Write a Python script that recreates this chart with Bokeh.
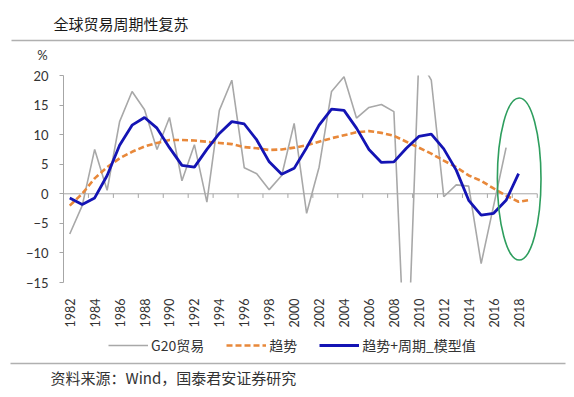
import math
from bokeh.plotting import figure
from bokeh.layouts import column
from bokeh.models import Range1d, FixedTicker, Legend, LegendItem
from bokeh.core.properties import value
from bokeh.embed import file_html
from bokeh.resources import INLINE

# ---------------- data ----------------
years = list(range(1982, 2020))
g20_years = years[:36]
g20_trade = [-6.8, -2.0, 7.5, 0.6, 12.2, 17.3, 14.2, 7.5, 12.9, 2.2,
             8.3, -1.4, 14.1, 19.2, 4.4, 3.4, 0.7, 3.1, 11.9, -3.3,
             4.5, 17.3, 19.8, 12.8, 14.6, 15.1, 13.9, -35.0, 23.0, 19.2,
             -0.5, 1.5, 1.3, -11.8, -2.0, 7.8]
trend_years = years
trend = [-2.0, 0.0, 2.6, 4.5, 6.0, 7.1, 8.0, 8.6, 9.1, 9.1,
         9.0, 8.8, 8.6, 8.4, 7.9, 7.7, 7.4, 7.5, 7.8, 8.2,
         8.8, 9.4, 9.9, 10.4, 10.6, 10.3, 9.8, 8.8, 7.8, 6.8,
         5.6, 4.5, 3.1, 2.2, 0.9, -0.3, -1.35, -1.0]
model_years = years[:37]
model = [-0.7, -1.8, -0.7, 3.1, 8.2, 11.6, 12.9, 11.1, 7.8, 4.8,
         4.5, 7.5, 10.2, 12.2, 11.8, 9.1, 5.4, 3.3, 4.3, 7.8,
         11.6, 14.3, 14.1, 11.1, 7.5, 5.3, 5.4, 7.7, 9.7, 10.1,
         7.6, 4.0, -1.1, -3.6, -3.3, -1.1, 3.4]
label_years = years[0:37:2]
y_ticks = [-15, -10, -5, 0, 5, 10, 15, 20]
series_names = ["G20贸易", "趋势", "趋势+周期_模型值"]
title_text = "全球贸易周期性复苏"
unit_text = "%"
source_text = "资料来源：Wind，国泰君安证券研究"
# highlighted region (ellipse)
hl_year, hl_value, hl_width, hl_height = 2018.05, 2.5, 3.5, 27.4

W = 574
CJK = "Noto Sans CJK SC"
SEP = "#B0B0B0"
AX = "#A6A6A6"
TXT = "#333333"
C_G20, C_TREND, C_MODEL = "#A8A8A8", "#E8883A", "#1414B4"
STYLES = [dict(line_color=C_G20, line_width=1.6),
          dict(line_color=C_TREND, line_width=2.6, line_dash="6 3"),
          dict(line_color=C_MODEL, line_width=2.8)]


def blank_fig(h):
    fig = figure(width=W, height=h, x_range=Range1d(0, W), y_range=Range1d(h, 0),
                 output_backend="svg", toolbar_location=None,
                 x_axis_type=None, y_axis_type=None,
                 min_border=0, min_border_left=0, min_border_right=0,
                 min_border_top=0, min_border_bottom=0, frame_align=False)
    fig.outline_line_color = None
    fig.xgrid.grid_line_color = None
    fig.ygrid.grid_line_color = None
    fig.background_fill_color = "white"
    fig.border_fill_color = "white"
    return fig


# ---------------- header (title, separator, unit) ----------------
HH = 68
head = blank_fig(HH)
head.text(x=[53], y=[23], text=[title_text], text_font=value(CJK),
          text_font_size=value("15px"), text_color="#1a1a1a",
          text_baseline="middle", text_align="left")
head.segment(x0=[11], y0=[40], x1=[W], y1=[40], line_color=SEP, line_width=1.6)
head.text(x=[42], y=[54], text=[unit_text], text_font=value("Lato"),
          text_font_size=value("13px"), text_color=TXT,
          text_baseline="middle", text_align="center")

# ---------------- main chart ----------------
MH = 262
p = figure(width=W, height=MH,
           x_range=Range1d(years[0] - 0.5, years[-1] + 1.0),
           y_range=Range1d(y_ticks[0], y_ticks[-1]),
           output_backend="svg", toolbar_location=None,
           min_border_left=63, min_border_right=31,
           min_border_top=7, min_border_bottom=47, frame_align=False)
p.outline_line_color = None
p.xgrid.grid_line_color = None
p.ygrid.grid_line_color = None
p.background_fill_color = "white"
p.border_fill_color = "white"

# y axis
p.yaxis.ticker = FixedTicker(ticks=y_ticks)
p.yaxis.axis_line_color = AX
p.yaxis.major_tick_line_color = AX
p.yaxis.major_tick_out = 4
p.yaxis.major_tick_in = 0
p.yaxis.minor_tick_line_color = None
p.yaxis.major_label_text_font = "Lato"
p.yaxis.major_label_text_font_size = "13px"
p.yaxis.major_label_text_color = TXT
p.yaxis.major_label_standoff = 11

# x axis (labels at bottom)
p.xaxis.ticker = FixedTicker(ticks=label_years)
p.xaxis.axis_line_color = None
p.xaxis.major_tick_line_color = None
p.xaxis.minor_tick_line_color = None
p.xaxis.major_label_orientation = math.pi / 2
p.xaxis.major_label_text_font = "Lato"
p.xaxis.major_label_text_font_size = "12.5px"
p.xaxis.major_label_text_color = TXT
p.xaxis.major_label_standoff = 10

# zero line with category ticks
p.segment(x0=[years[0] - 0.5], y0=[0], x1=[years[-1] + 0.5], y1=[0],
          line_color=AX, line_width=1)
tick_x = [y + 0.5 for y in years[1::2]]
p.segment(x0=tick_x, y0=[0] * len(tick_x), x1=tick_x, y1=[-0.7] * len(tick_x),
          line_color=AX, line_width=1)

# series
p.line(g20_years, g20_trade, **STYLES[0])
p.line(trend_years, trend, **STYLES[1])
p.line(model_years, model, **STYLES[2])

# ellipse highlight
p.ellipse(x=[hl_year], y=[hl_value], width=[hl_width], height=[hl_height],
          fill_color=None, line_color="#2E9E5E", line_width=1.6)

# ---------------- footer (legend, separator, source) ----------------
FH = 397 - HH - MH
foot = blank_fig(FH)
# legend key renderers (kept off-canvas, only their styles show in the legend)
keys = [foot.line(x=[-30, -20], y=[-30, -30], **st) for st in STYLES]
legend = Legend(items=[LegendItem(label=n, renderers=[r])
                       for n, r in zip(series_names, keys)],
                orientation="horizontal", location=(108, FH - 25))
legend.label_text_font = CJK
legend.label_text_font_size = "14px"
legend.label_text_color = TXT
legend.glyph_width = 40
legend.glyph_height = 18
legend.label_standoff = 3
legend.spacing = 22
legend.padding = 0
legend.margin = 0
legend.border_line_color = None
legend.background_fill_alpha = 0
foot.add_layout(legend)
foot.segment(x0=[10], y0=[33], x1=[565], y1=[33], line_color=SEP, line_width=1.6)
foot.text(x=[50], y=[47], text=[source_text], text_font=value(CJK),
          text_font_size=value("15px"), text_color=TXT,
          text_baseline="middle", text_align="left")

layout = column(head, p, foot, spacing=0)
open("out.html", "w").write(file_html(layout, INLINE))
